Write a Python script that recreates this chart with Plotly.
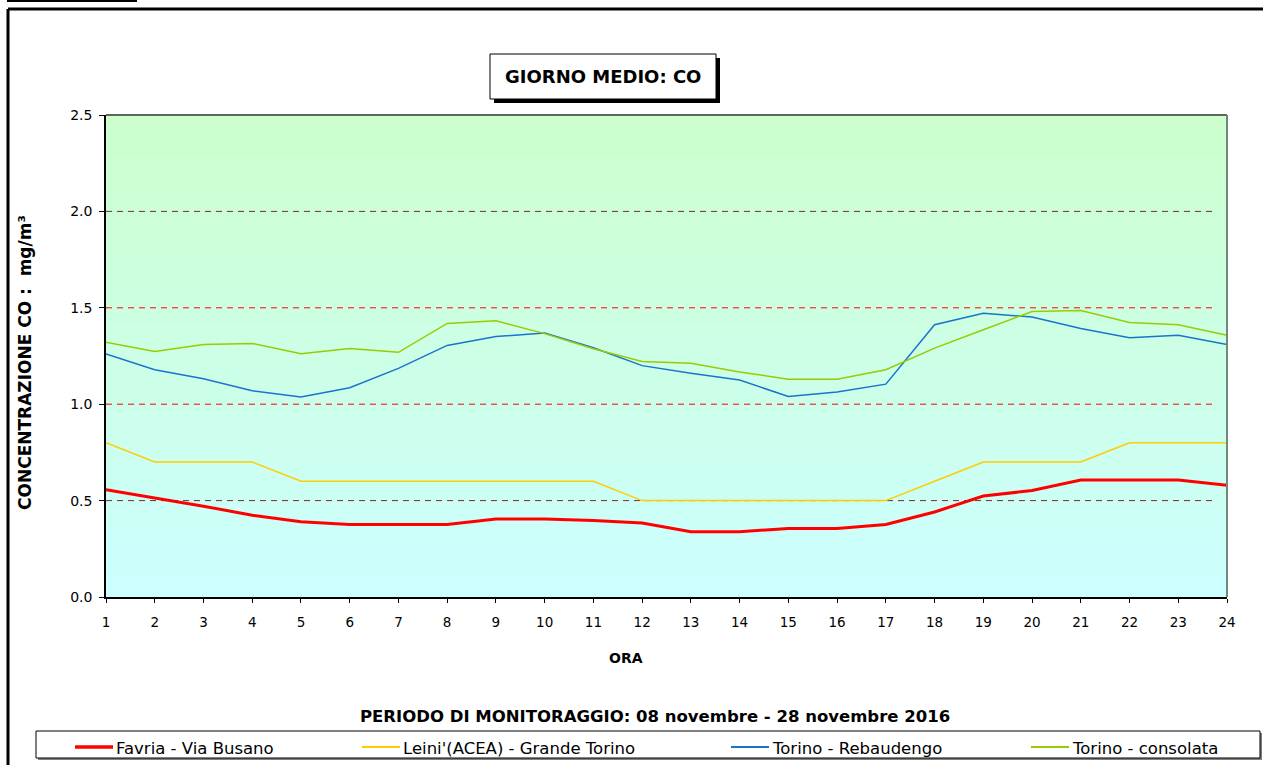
import plotly.graph_objects as go

W, H = 1263, 765
L, R, T, B = 106, 1227, 115, 597

hours = list(range(1, 25))
favria = [0.557, 0.514, 0.471, 0.424, 0.390, 0.376, 0.376, 0.376, 0.404, 0.404, 0.397, 0.384,
          0.339, 0.339, 0.355, 0.355, 0.376, 0.441, 0.524, 0.552, 0.607, 0.607, 0.607, 0.579]
leini = [0.8, 0.7, 0.7, 0.7, 0.6, 0.6, 0.6, 0.6, 0.6, 0.6, 0.6, 0.5,
         0.5, 0.5, 0.5, 0.5, 0.5, 0.6, 0.7, 0.7, 0.7, 0.8, 0.8, 0.8]
rebaudengo = [1.260, 1.179, 1.132, 1.070, 1.037, 1.085, 1.186, 1.305, 1.351, 1.369, 1.293, 1.200,
              1.160, 1.125, 1.040, 1.063, 1.104, 1.412, 1.472, 1.452, 1.393, 1.345, 1.357, 1.310]
consolata = [1.322, 1.274, 1.310, 1.315, 1.262, 1.289, 1.269, 1.419, 1.433, 1.366, 1.288, 1.221,
             1.212, 1.167, 1.130, 1.130, 1.179, 1.291, 1.386, 1.481, 1.486, 1.424, 1.412, 1.357]

series_names = ["Favria - Via Busano", "Leini'(ACEA) - Grande Torino",
                "Torino - Rebaudengo", "Torino - consolata"]
series_vals = [favria, leini, rebaudengo, consolata]
colors = ["#FF0000", "#FFCC00", "#1a73cc", "#99CC00"]
widths = [3, 1.5, 1.5, 1.5]
legend_px = [75, 362, 731, 1031]

y_ticks = [0.0, 0.5, 1.0, 1.5, 2.0, 2.5]

FONT = "DejaVu Sans, Liberation Sans, Arial, sans-serif"


def px(x):
    return (x - L) / (R - L)


def py(y):
    return (B - y) / (B - T)


fig = go.Figure()
for name, vals, c, w in zip(series_names, series_vals, colors, widths):
    fig.add_trace(go.Scatter(x=hours, y=vals, mode="lines", name=name, showlegend=False,
                             line=dict(color=c, width=w)))

shapes = []
# gradient background
N = 60
top = (204, 255, 204)
bot = (204, 255, 255)
for i in range(N):
    f = (i + 0.5) / N
    col = tuple(round(bot[k] + (top[k] - bot[k]) * f) for k in range(3))
    shapes.append(dict(type="rect", xref="paper", yref="paper", x0=0, x1=1,
                       y0=i / N, y1=(i + 1) / N + 0.002, fillcolor="rgb(%d,%d,%d)" % col,
                       line=dict(width=0), layer="below"))
# dashed grid lines
grid_cols = {0.5: "#7a2a2a", 1.0: "#FF0000", 1.5: "#FF0000", 2.0: "#7a2a2a"}
for v, c in grid_cols.items():
    shapes.append(dict(type="line", xref="paper", yref="y", x0=0, x1=0.988, y0=v, y1=v,
                       line=dict(color=c, width=1, dash="6px,5px"), layer="below"))
# plot frame top and right
shapes.append(dict(type="line", xref="paper", yref="paper", x0=0, x1=1, y0=1, y1=1,
                   line=dict(color="#333333", width=1.5)))
shapes.append(dict(type="line", xref="paper", yref="paper", x0=1, x1=1, y0=0, y1=1,
                   line=dict(color="#6f8a7c", width=2)))
# outer frame
shapes.append(dict(type="line", xref="paper", yref="paper", x0=px(8), x1=px(1270),
                   y0=py(9), y1=py(9), line=dict(color="black", width=3)))
shapes.append(dict(type="line", xref="paper", yref="paper", x0=px(8), x1=px(8),
                   y0=py(9), y1=py(770), line=dict(color="black", width=3)))
# cut top-left underline
shapes.append(dict(type="line", xref="paper", yref="paper", x0=px(7), x1=px(137),
                   y0=py(1), y1=py(1), line=dict(color="black", width=2)))
# title box with shadow
shapes.append(dict(type="rect", xref="paper", yref="paper", x0=px(494), x1=px(720),
                   y0=py(103), y1=py(58), fillcolor="black", line=dict(width=0)))
shapes.append(dict(type="rect", xref="paper", yref="paper", x0=px(490), x1=px(716),
                   y0=py(99), y1=py(54), fillcolor="white", line=dict(color="black", width=1)))
# legend box with shadow
shapes.append(dict(type="rect", xref="paper", yref="paper", x0=px(38), x1=px(1262),
                   y0=py(760), y1=py(733), fillcolor="#808080", line=dict(width=0)))
shapes.append(dict(type="rect", xref="paper", yref="paper", x0=px(36), x1=px(1260),
                   y0=py(758), y1=py(731), fillcolor="white", line=dict(color="black", width=1)))

annotations = [
    dict(text="<b>GIORNO MEDIO: CO</b>", xref="paper", yref="paper", x=px(603), y=py(76.5),
         showarrow=False, font=dict(family=FONT, size=18, color="black"),
         xanchor="center", yanchor="middle"),
    dict(text="<b>CONCENTRAZIONE CO :  mg/m³</b>", xref="paper", yref="paper",
         x=px(25), y=py(363), textangle=-90, showarrow=False,
         font=dict(family=FONT, size=17, color="black"), xanchor="center", yanchor="middle"),
    dict(text="<b>ORA</b>", xref="paper", yref="paper", x=px(626), y=py(658),
         showarrow=False, font=dict(family=FONT, size=14, color="black"),
         xanchor="center", yanchor="middle"),
    dict(text="<b>PERIODO DI MONITORAGGIO: 08 novembre - 28 novembre 2016</b>",
         xref="paper", yref="paper", x=px(655), y=py(716), showarrow=False,
         font=dict(family=FONT, size=16.5, color="black"), xanchor="center", yanchor="middle"),
]

# legend drawn as line samples + labels inside the legend box
for name, c, w, lx in zip(series_names, colors, widths, legend_px):
    shapes.append(dict(type="line", xref="paper", yref="paper", x0=px(lx), x1=px(lx + 38),
                       y0=py(747), y1=py(747), line=dict(color=c, width=w + 0.5)))
    annotations.append(dict(text=name, xref="paper", yref="paper", x=px(lx + 39), y=py(748.5),
                            showarrow=False, xanchor="left", yanchor="middle",
                            font=dict(family=FONT, size=16.5, color="black")))

fig.update_layout(
    width=W, height=H,
    margin=dict(l=L, r=W - R, t=T, b=H - B),
    paper_bgcolor="white",
    plot_bgcolor="#CCFFEE",
    font=dict(family=FONT, size=13, color="black"),
    showlegend=False,
    shapes=shapes,
    annotations=annotations,
    xaxis=dict(range=[1, 24], tickvals=hours, ticktext=[str(h) for h in hours],
               showgrid=False, zeroline=False, showline=True, linecolor="black", linewidth=1.5,
               ticks="outside", ticklen=4, tickcolor="black", ticklabelstandoff=8,
               automargin=False,
               tickfont=dict(family=FONT, size=13.5, color="black")),
    yaxis=dict(range=[0, 2.5], tickvals=y_ticks, ticktext=["%.1f" % v for v in y_ticks],
               showgrid=False, zeroline=False, showline=True, linecolor="black", linewidth=1.5,
               ticks="outside", ticklen=5, tickcolor="black", ticklabelstandoff=4,
               automargin=False,
               tickfont=dict(family=FONT, size=14, color="black")),
)

fig.write_html(
    "out.html",
    config={"displayModeBar": False},
    post_script=(
        "document.body.style.margin='0';document.body.style.padding='0';"
        "document.body.style.overflow='hidden';"
    ),
)
